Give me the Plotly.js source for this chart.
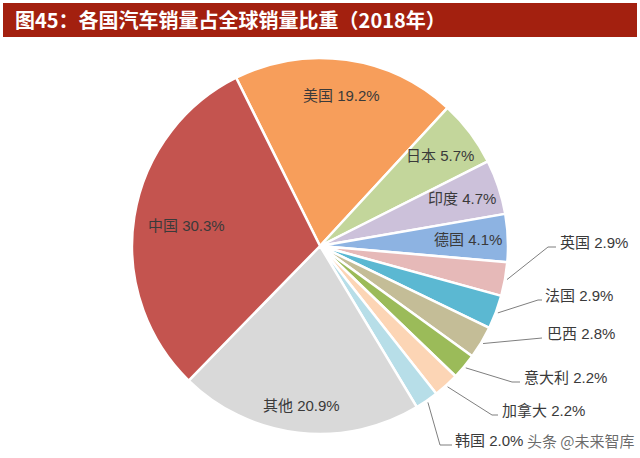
<!DOCTYPE html>
<html>
<head>
<meta charset="utf-8">
<script src="https://cdn.plot.ly/plotly-3.0.1.min.js"></script>
<style>
  html, body { margin: 0; padding: 0; background: #fff; }
  #chart { width: 640px; height: 458px; }
</style>
</head>
<body>
<div id="chart"></div>
<script>
// countries in clockwise order, starting with the US at the top
let countries = ["美国", "日本", "印度", "德国", "英国", "法国", "巴西", "意大利", "加拿大", "韩国", "其他", "中国"];
let shares = [19.2, 5.7, 4.7, 4.1, 2.9, 2.9, 2.8, 2.2, 2.2, 2.0, 20.9, 30.3];
let sliceColors = ["#F79E5B", "#C3D69B", "#CCC1DA", "#8DB3E2", "#E6B9B8", "#5BB8D2",
                   "#C4BD97", "#9BBB59", "#FCD5B5", "#B7DEE8", "#D9D9D9", "#C4544F"];

// page + pie geometry (pixels from top-left)
const W = 640, H = 458;
const cx = 320, cy = 246, r = 188;
const startAngle = -26.5; // where the first slice begins, degrees clockwise from 12 o'clock

// labels drawn inside the slice: distance from the center
let insideRadius = {"美国": 152, "日本": 150, "印度": 150, "德国": 148, "其他": 161, "中国": 135};

// labels drawn outside with a leader line: elbow point, line end x, text left x
let callouts = {
    "英国":  {elbow: [548, 247], end: 556, textX: 558},
    "法国":  {elbow: [538, 300], end: 542, textX: 543},
    "巴西":  {elbow: [542, 338], end: 542, textX: 545},
    "意大利": {elbow: [512, 382], end: 520, textX: 522},
    "加拿大": {elbow: [492, 415], end: 498, textX: 500},
    "韩国":  {elbow: [440, 445], end: 452, textX: 453}
};

function px(x) { return x / W; }
function py(y) { return 1 - y / H; }

let total = shares.reduce((a, b) => a + b, 0);
let labelFont = {family: "Liberation Sans, Noto Sans CJK SC, sans-serif", size: 15, color: "#3a3a3a"};

let annotations = [];
let shapes = [];

// red header band
shapes.push({
    type: "rect", xref: "paper", yref: "paper",
    x0: px(3), x1: px(637), y0: py(37), y1: py(3),
    fillcolor: "#A3200F", line: {width: 0}, layer: "below"
});
annotations.push({
    text: "<b>图45：各国汽车销量占全球销量比重（2018年）</b>",
    xref: "paper", yref: "paper", x: px(13), y: py(20),
    xanchor: "left", yanchor: "middle", showarrow: false,
    font: {family: "Noto Sans CJK SC, sans-serif", size: 20, color: "#ffffff"}
});

// slice labels, placed from each slice's mid angle
let cum = 0;
for (let i = 0; i < countries.length; i++) {
    let name = countries[i];
    let mid = (startAngle + (cum + shares[i] / 2) / total * 360) * Math.PI / 180;
    cum += shares[i];
    let text = name + " " + shares[i].toFixed(1) + "%";

    if (insideRadius[name]) {
        let rr = insideRadius[name];
        annotations.push({
            text: text, xref: "paper", yref: "paper",
            x: px(cx + rr * Math.sin(mid)), y: py(cy - rr * Math.cos(mid)),
            xanchor: "center", yanchor: "middle",
            showarrow: false, font: labelFont
        });
    } else {
        let c = callouts[name];
        let sx = cx + (r + 2) * Math.sin(mid), sy = cy - (r + 2) * Math.cos(mid);
        shapes.push({
            type: "path", xref: "paper", yref: "paper",
            path: "M " + px(sx) + "," + py(sy) + " L " + px(c.elbow[0]) + "," + py(c.elbow[1]) +
                  " L " + px(c.end) + "," + py(c.elbow[1]),
            line: {color: "#7f7f7f", width: 1}
        });
        annotations.push({
            text: text, xref: "paper", yref: "paper",
            x: px(c.textX), y: py(c.elbow[1] - 5),
            xanchor: "left", yanchor: "middle", showarrow: false, font: labelFont
        });
    }
}

// watermark in the bottom right corner
annotations.push({
    text: "头条 @未来智库", xref: "paper", yref: "paper",
    x: px(637), y: py(440), xanchor: "right", yanchor: "middle", showarrow: false,
    font: {family: "Noto Sans CJK SC, sans-serif", size: 15, color: "rgba(40,40,40,0.7)"}
});

let pieTrace = {
    type: "pie",
    labels: countries,
    values: shares,
    sort: false,
    direction: "clockwise",
    rotation: startAngle,
    textinfo: "none",
    hoverinfo: "label+percent",
    marker: {colors: sliceColors, line: {color: "#ffffff", width: 2.5}},
    domain: {x: [px(cx - r), px(cx + r)], y: [py(cy + r), py(cy - r)]}
};

let layout = {
    width: W,
    height: H,
    margin: {l: 0, r: 0, t: 0, b: 0},
    paper_bgcolor: "#ffffff",
    showlegend: false,
    shapes: shapes,
    annotations: annotations
};

Plotly.newPlot("chart", [pieTrace], layout, {displayModeBar: false, staticPlot: true});
</script>
</body>
</html>
